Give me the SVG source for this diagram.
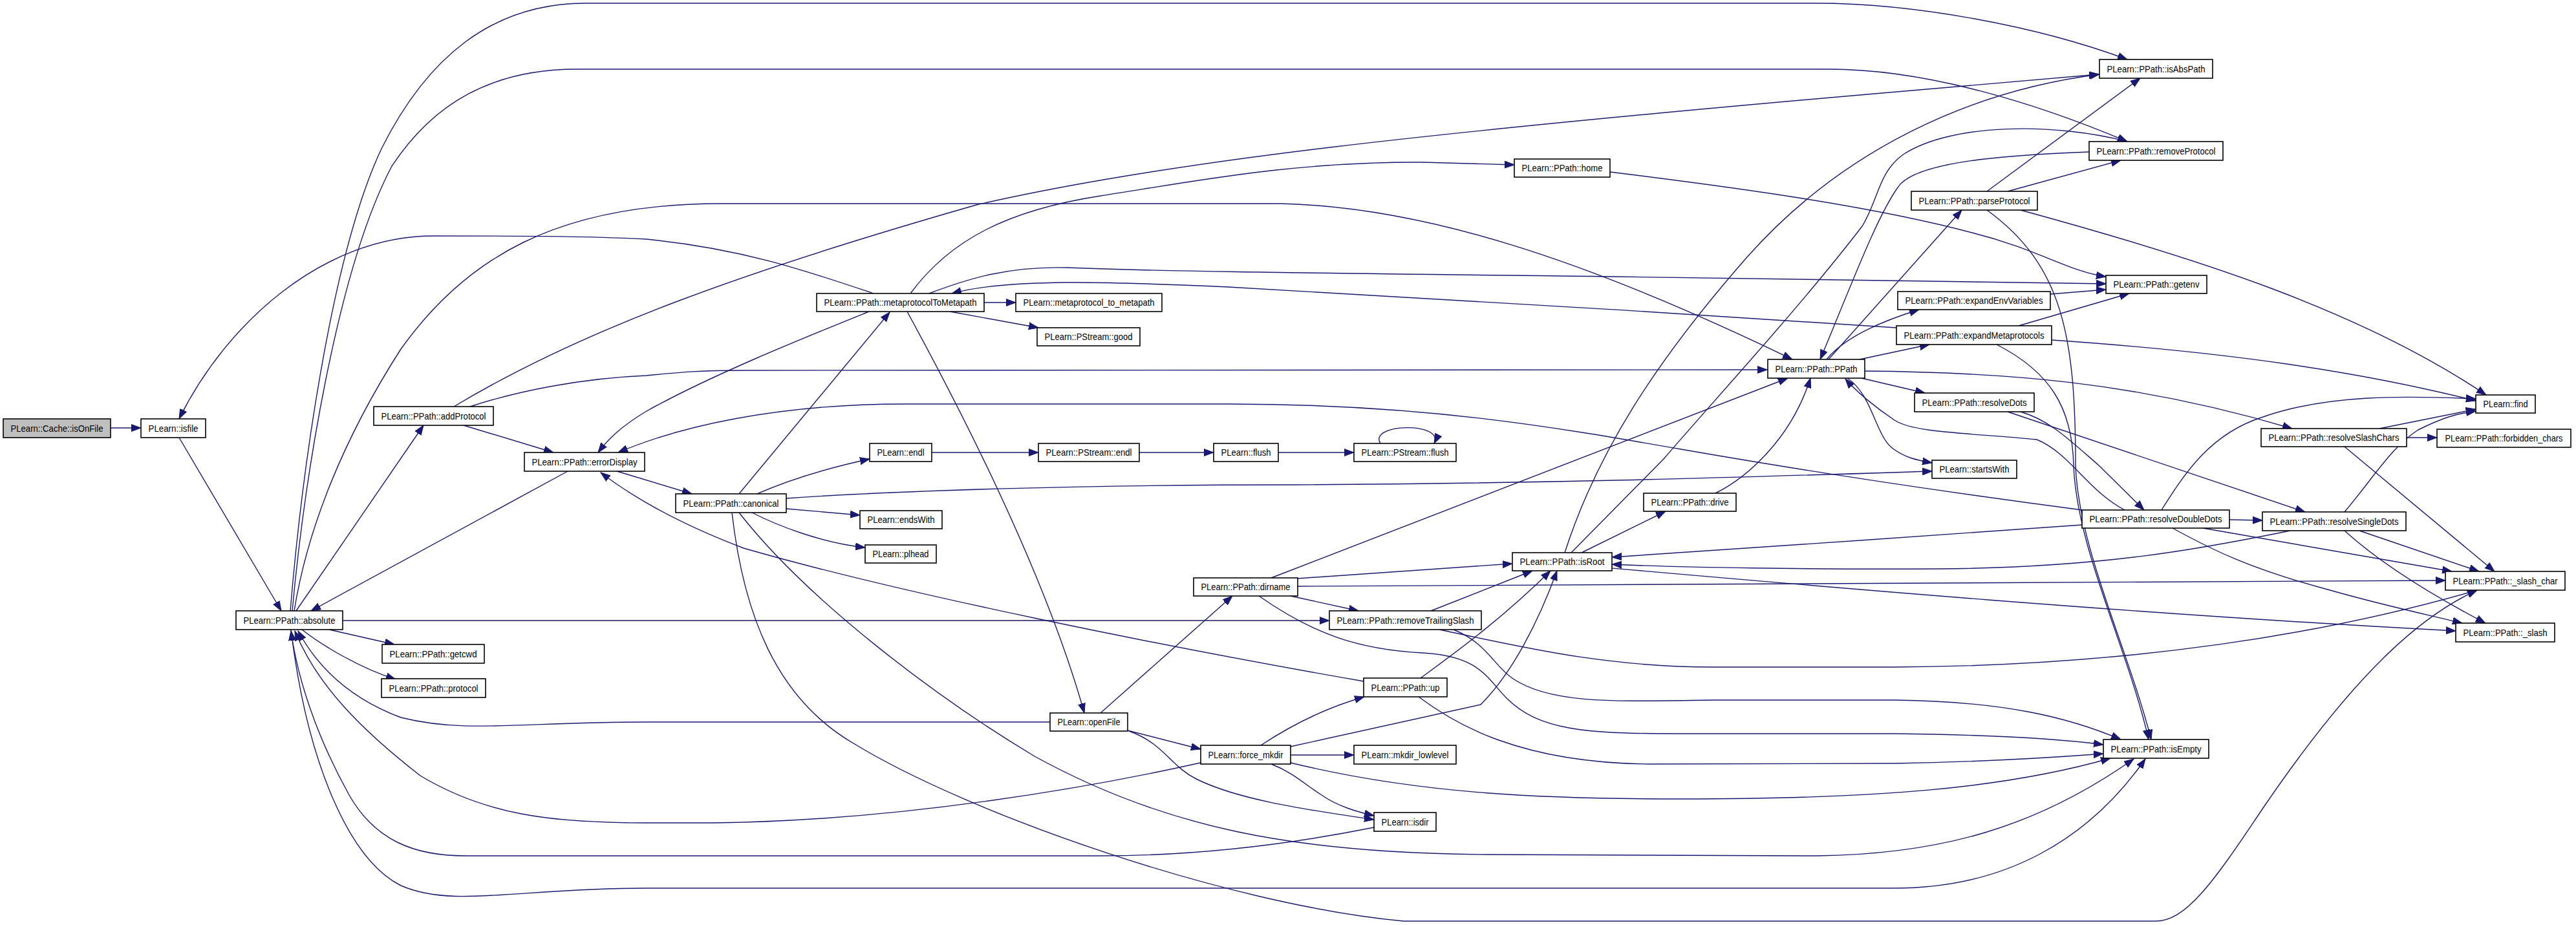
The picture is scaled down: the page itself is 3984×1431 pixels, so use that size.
<svg xmlns="http://www.w3.org/2000/svg" width="3984" height="1431" viewBox="0 0 3984 1431">
<style>
.node rect{fill:#ffffff;stroke:#000000;stroke-width:1.6}
.node.root rect{fill:#bfbfbf}
.node text{font-family:"Liberation Sans",Arial,sans-serif;font-size:15px;text-anchor:middle;fill:#000000}
.edges path{fill:none;stroke:#191970;stroke-width:1.4;marker-end:url(#ah)}
</style>
<defs>
<marker id="ah" markerUnits="userSpaceOnUse" markerWidth="16" markerHeight="12" viewBox="0 0 16 12" refX="15" refY="6" orient="auto">
<path d="M0,0.5 L15,6 L0,11.5 z" fill="#191970" stroke="#191970" stroke-width="1"/>
</marker>
</defs>
<rect x="0" y="0" width="3984" height="1431" fill="#ffffff"/>
<g id="edges" class="edges">
<path d="M171,662 L218,662"/>
<path d="M277,677 L435,945"/>
<path d="M449,945 C465,750 510,400 590,230 C660,90 760,5 906,5 L2809,5 C2960,5 3150,40 3290,92"/>
<path d="M452,945 C470,750 520,420 606,257 C670,160 760,107 893,107 L2828,107 C2980,107 3150,160 3290,219"/>
<path d="M458,945 L655,658"/>
<path d="M878,729 L481,945"/>
<path d="M717,658 L856,700"/>
<path d="M509,974 L610,997"/>
<path d="M467,974 C500,1000 560,1035 612,1051"/>
<path d="M530,960 L2056,960"/>
<path d="M455,945 C475,820 530,680 620,540 C720,400 860,315 1115,315 L1980,315 C2200,320 2450,400 2772,556"/>
<path d="M1351,454 C1250,420 1150,385 1000,370 C900,365 800,365 670,365 C500,365 350,500 277,648"/>
<path d="M1344,482 C1250,520 1100,580 1000,636 C960,660 940,680 925,700"/>
<path d="M1522,468 L1571,468"/>
<path d="M1469,482 L1606,507"/>
<path d="M1143,764 L1376,483"/>
<path d="M1403,482 C1500,660 1620,900 1677,1103"/>
<path d="M1408,454 C1470,370 1560,325 1702,303 C1850,280 2000,250 2200,251 L2342,255"/>
<path d="M1437,454 C1500,430 1560,412 1650,414 C1800,420 2000,422 2500,428 L3257,439"/>
<path d="M2933,507 C2600,485 2200,460 1900,444 C1720,436 1560,430 1472,454"/>
<path d="M702,629 C900,510 1150,420 1510,317 C1800,250 2200,205 2980,138 L3246,115"/>
<path d="M727,629 C800,605 900,585 1000,581 C1050,576 1080,573 1150,573 L2733,572"/>
<path d="M3220,789 C3000,760 2800,730 2600,695 C2400,660 2200,625 1900,625 L1400,625 C1200,625 1050,660 956,700"/>
<path d="M1171,764 C1230,738 1290,722 1345,710"/>
<path d="M1441,700 L1606,700"/>
<path d="M1762,700 L1877,700"/>
<path d="M1977,700 L2094,700"/>
<path d="M2135,686 C2115,655 2235,652 2218,686"/>
<path d="M1216,787 L1330,797"/>
<path d="M1163,793 C1200,812 1270,840 1338,847"/>
<path d="M1216,771 C1400,758 1700,750 2000,750 C2400,748 2700,738 2988,729"/>
<path d="M954,729 L1070,764"/>
<path d="M2109,1054 C1800,1000 1400,920 1150,848 C1050,810 980,770 929,731"/>
<path d="M1132,793 C1150,950 1200,1080 1320,1150 C1500,1260 1900,1400 2171,1425 L3333,1425 C3380,1425 3420,1370 3500,1250 C3650,1030 3750,950 3831,913"/>
<path d="M1143,793 C1250,930 1450,1080 1600,1170 C1800,1280 2000,1320 2300,1322 L2809,1324 C3000,1322 3150,1280 3300,1174"/>
<path d="M450,974 C475,1180 540,1330 620,1370 C700,1405 800,1374 1000,1374 L2930,1374 C3100,1374 3230,1300 3318,1174"/>
<path d="M1624,1117 L1000,1117 C800,1117 720,1135 620,1110 C540,1080 490,1030 461,976"/>
<path d="M1857,1180 C1700,1215 1400,1270 1100,1273 L1000,1273 C850,1273 750,1260 650,1200 C560,1130 490,1060 456,976"/>
<path d="M2125,1280 C2000,1305 1850,1324 1700,1324 L720,1324 C640,1324 580,1300 540,1230 C490,1140 460,1050 450,976"/>
<path d="M1702,1103 L1906,922"/>
<path d="M1744,1130 L1857,1159"/>
<path d="M1746,1131 C1800,1150 1810,1185 1850,1205 C1920,1240 2040,1255 2125,1268"/>
<path d="M1950,1153 C2000,1120 2050,1095 2110,1078"/>
<path d="M1996,1168 L2094,1168"/>
<path d="M1996,1155 L2290,1090 C2340,1040 2380,960 2408,883"/>
<path d="M1966,1182 C2000,1195 2020,1215 2044,1230 C2070,1248 2100,1256 2125,1262"/>
<path d="M1996,1180 C2200,1230 2400,1236 2600,1236 C2900,1236 3100,1220 3264,1173"/>
<path d="M1966,894 L2765,585"/>
<path d="M2006,895 L2339,872"/>
<path d="M1996,922 L2101,945"/>
<path d="M2007,907 L3782,898"/>
<path d="M1947,922 C2030,980 2100,1005 2200,1010 C2290,1015 2300,1050 2330,1080 C2380,1130 2450,1135 2600,1135 L2930,1135 C3100,1137 3200,1145 3253,1152"/>
<path d="M2213,945 L2370,883"/>
<path d="M2226,974 C2350,1000 2480,1032 2650,1032 L2930,1032 C3300,1030 3600,980 3831,913"/>
<path d="M2248,974 C2300,995 2310,1030 2340,1050 C2400,1090 2500,1085 2650,1083 L2930,1083 C3100,1085 3200,1110 3280,1144"/>
<path d="M2197,1049 C2250,1010 2320,960 2398,883"/>
<path d="M2194,1078 C2250,1120 2350,1180 2550,1182 L2930,1181 C3100,1178 3200,1170 3253,1166"/>
<path d="M2446,855 L2576,791"/>
<path d="M2653,763 C2700,740 2770,680 2800,585"/>
<path d="M2420,855 C2470,700 2560,560 2700,400 C2850,230 3050,140 3247,115"/>
<path d="M2430,855 L2573,710 C2650,620 2780,480 2880,350 C2905,310 2905,265 2945,238 C3020,190 3180,190 3290,219"/>
<path d="M3231,235 C3100,240 2960,250 2935,290 C2900,340 2860,450 2815,556"/>
<path d="M2828,556 L3034,325"/>
<path d="M2825,556 C2850,525 2900,500 2968,479"/>
<path d="M2876,556 L2984,533"/>
<path d="M2879,585 L2977,608"/>
<path d="M2884,574 C3100,576 3300,590 3545,663"/>
<path d="M2857,585 C2895,610 2900,670 2925,692 C2945,708 2965,712 2988,716"/>
<path d="M3286,789 C3230,760 3200,700 3150,680 C3050,670 2960,670 2930,650 C2900,630 2870,605 2854,586"/>
<path d="M3171,455 L3257,448"/>
<path d="M3122,504 L3293,454"/>
<path d="M2490,266 C2700,292 2900,320 3050,360 C3150,385 3200,420 3257,428"/>
<path d="M3073,296 L3310,121"/>
<path d="M3105,296 L3280,248"/>
<path d="M3125,325 C3400,400 3650,480 3845,611"/>
<path d="M3073,325 C3190,410 3210,520 3210,720 C3215,850 3290,1000 3327,1144"/>
<path d="M3088,533 C3170,575 3205,630 3207,720 C3212,850 3290,1000 3323,1144"/>
<path d="M3173,526 C3450,545 3650,575 3829,620"/>
<path d="M3105,637 L3565,792"/>
<path d="M3125,637 C3170,650 3200,680 3246,720 L3316,789"/>
<path d="M3680,663 L3829,633"/>
<path d="M3722,677 L3769,677"/>
<path d="M3626,691 L3858,884"/>
<path d="M3343,789 C3380,730 3420,670 3500,645 C3600,610 3720,612 3829,617"/>
<path d="M3626,792 C3670,740 3700,690 3740,665 C3780,645 3800,640 3829,636"/>
<path d="M3448,804 L3499,805"/>
<path d="M3407,817 L3792,884"/>
<path d="M3360,817 C3420,850 3480,880 3600,912 C3680,935 3750,950 3808,964"/>
<path d="M3649,821 L3834,884"/>
<path d="M3626,821 C3680,870 3760,920 3844,964"/>
<path d="M3220,812 C3000,828 2700,848 2493,862"/>
<path d="M3542,821 C3400,850 3250,878 3000,880 C2800,881 2600,878 2493,873"/>
<path d="M2493,879 C2800,906 3300,950 3798,976"/>
</g>
<g id="n_isOnFile" class="node root"><rect x="5" y="648" width="166" height="29"/><text x="88" y="667.5" textLength="143" lengthAdjust="spacingAndGlyphs">PLearn::Cache::isOnFile</text></g>
<g id="n_isfile" class="node"><rect x="218" y="648" width="100" height="29"/><text x="268" y="667.5" textLength="77" lengthAdjust="spacingAndGlyphs">PLearn::isfile</text></g>
<g id="n_absolute" class="node"><rect x="365" y="945" width="165" height="29"/><text x="447.5" y="964.5" textLength="142" lengthAdjust="spacingAndGlyphs">PLearn::PPath::absolute</text></g>
<g id="n_addProtocol" class="node"><rect x="578" y="629" width="185" height="29"/><text x="670.5" y="648.5" textLength="162" lengthAdjust="spacingAndGlyphs">PLearn::PPath::addProtocol</text></g>
<g id="n_getcwd" class="node"><rect x="591" y="997" width="158" height="29"/><text x="670" y="1016.5" textLength="135" lengthAdjust="spacingAndGlyphs">PLearn::PPath::getcwd</text></g>
<g id="n_protocol" class="node"><rect x="590" y="1050" width="161" height="29"/><text x="670.5" y="1069.5" textLength="138" lengthAdjust="spacingAndGlyphs">PLearn::PPath::protocol</text></g>
<g id="n_errorDisplay" class="node"><rect x="811" y="700" width="186" height="29"/><text x="904" y="719.5" textLength="163" lengthAdjust="spacingAndGlyphs">PLearn::PPath::errorDisplay</text></g>
<g id="n_metaprotocolToMetapath" class="node"><rect x="1263" y="454" width="259" height="28"/><text x="1392.5" y="473" textLength="236" lengthAdjust="spacingAndGlyphs">PLearn::PPath::metaprotocolToMetapath</text></g>
<g id="n_canonical" class="node"><rect x="1045" y="764" width="171" height="29"/><text x="1130.5" y="783.5" textLength="148" lengthAdjust="spacingAndGlyphs">PLearn::PPath::canonical</text></g>
<g id="n_metaprotocol_to_metapath" class="node"><rect x="1571" y="454" width="226" height="28"/><text x="1684" y="473" textLength="203" lengthAdjust="spacingAndGlyphs">PLearn::metaprotocol_to_metapath</text></g>
<g id="n_good" class="node"><rect x="1604" y="507" width="159" height="28"/><text x="1683.5" y="526" textLength="136" lengthAdjust="spacingAndGlyphs">PLearn::PStream::good</text></g>
<g id="n_endl" class="node"><rect x="1345" y="686" width="96" height="28"/><text x="1393" y="705" textLength="73" lengthAdjust="spacingAndGlyphs">PLearn::endl</text></g>
<g id="n_endsWith" class="node"><rect x="1330" y="790" width="127" height="28"/><text x="1393.5" y="809" textLength="104" lengthAdjust="spacingAndGlyphs">PLearn::endsWith</text></g>
<g id="n_plhead" class="node"><rect x="1338" y="843" width="110" height="28"/><text x="1393" y="862" textLength="87" lengthAdjust="spacingAndGlyphs">PLearn::plhead</text></g>
<g id="n_PStream_endl" class="node"><rect x="1606" y="686" width="156" height="28"/><text x="1684" y="705" textLength="133" lengthAdjust="spacingAndGlyphs">PLearn::PStream::endl</text></g>
<g id="n_openFile" class="node"><rect x="1624" y="1103" width="120" height="28"/><text x="1684" y="1122" textLength="97" lengthAdjust="spacingAndGlyphs">PLearn::openFile</text></g>
<g id="n_dirname" class="node"><rect x="1846" y="894" width="161" height="28"/><text x="1926.5" y="913" textLength="138" lengthAdjust="spacingAndGlyphs">PLearn::PPath::dirname</text></g>
<g id="n_force_mkdir" class="node"><rect x="1857" y="1153" width="139" height="29"/><text x="1926.5" y="1172.5" textLength="116" lengthAdjust="spacingAndGlyphs">PLearn::force_mkdir</text></g>
<g id="n_flush" class="node"><rect x="1877" y="686" width="100" height="28"/><text x="1927" y="705" textLength="77" lengthAdjust="spacingAndGlyphs">PLearn::flush</text></g>
<g id="n_PStream_flush" class="node"><rect x="2094" y="686" width="158" height="28"/><text x="2173" y="705" textLength="135" lengthAdjust="spacingAndGlyphs">PLearn::PStream::flush</text></g>
<g id="n_home" class="node"><rect x="2342" y="246" width="148" height="28"/><text x="2416" y="265" textLength="125" lengthAdjust="spacingAndGlyphs">PLearn::PPath::home</text></g>
<g id="n_removeTrailingSlash" class="node"><rect x="2056" y="945" width="235" height="29"/><text x="2173.5" y="964.5" textLength="212" lengthAdjust="spacingAndGlyphs">PLearn::PPath::removeTrailingSlash</text></g>
<g id="n_up" class="node"><rect x="2109" y="1049" width="129" height="29"/><text x="2173.5" y="1068.5" textLength="106" lengthAdjust="spacingAndGlyphs">PLearn::PPath::up</text></g>
<g id="n_mkdir_lowlevel" class="node"><rect x="2094" y="1153" width="158" height="29"/><text x="2173" y="1172.5" textLength="135" lengthAdjust="spacingAndGlyphs">PLearn::mkdir_lowlevel</text></g>
<g id="n_isdir" class="node"><rect x="2125" y="1257" width="96" height="29"/><text x="2173" y="1276.5" textLength="73" lengthAdjust="spacingAndGlyphs">PLearn::isdir</text></g>
<g id="n_isRoot" class="node"><rect x="2339" y="855" width="154" height="28"/><text x="2416" y="874" textLength="131" lengthAdjust="spacingAndGlyphs">PLearn::PPath::isRoot</text></g>
<g id="n_drive" class="node"><rect x="2542" y="763" width="143" height="28"/><text x="2613.5" y="782" textLength="120" lengthAdjust="spacingAndGlyphs">PLearn::PPath::drive</text></g>
<g id="n_PPath" class="node"><rect x="2734" y="556" width="150" height="29"/><text x="2809" y="575.5" textLength="127" lengthAdjust="spacingAndGlyphs">PLearn::PPath::PPath</text></g>
<g id="n_parseProtocol" class="node"><rect x="2956" y="296" width="195" height="29"/><text x="3053.5" y="315.5" textLength="172" lengthAdjust="spacingAndGlyphs">PLearn::PPath::parseProtocol</text></g>
<g id="n_expandEnvVariables" class="node"><rect x="2935" y="451" width="236" height="28"/><text x="3053" y="470" textLength="213" lengthAdjust="spacingAndGlyphs">PLearn::PPath::expandEnvVariables</text></g>
<g id="n_expandMetaprotocols" class="node"><rect x="2933" y="504" width="240" height="29"/><text x="3053" y="523.5" textLength="217" lengthAdjust="spacingAndGlyphs">PLearn::PPath::expandMetaprotocols</text></g>
<g id="n_resolveDots" class="node"><rect x="2961" y="608" width="185" height="29"/><text x="3053.5" y="627.5" textLength="162" lengthAdjust="spacingAndGlyphs">PLearn::PPath::resolveDots</text></g>
<g id="n_startsWith" class="node"><rect x="2988" y="712" width="131" height="28"/><text x="3053.5" y="731" textLength="108" lengthAdjust="spacingAndGlyphs">PLearn::startsWith</text></g>
<g id="n_isAbsPath" class="node"><rect x="3247" y="92" width="175" height="29"/><text x="3334.5" y="111.5" textLength="152" lengthAdjust="spacingAndGlyphs">PLearn::PPath::isAbsPath</text></g>
<g id="n_removeProtocol" class="node"><rect x="3231" y="219" width="207" height="29"/><text x="3334.5" y="238.5" textLength="184" lengthAdjust="spacingAndGlyphs">PLearn::PPath::removeProtocol</text></g>
<g id="n_getenv" class="node"><rect x="3257" y="426" width="156" height="28"/><text x="3335" y="445" textLength="133" lengthAdjust="spacingAndGlyphs">PLearn::PPath::getenv</text></g>
<g id="n_resolveDoubleDots" class="node"><rect x="3220" y="789" width="228" height="28"/><text x="3334" y="808" textLength="205" lengthAdjust="spacingAndGlyphs">PLearn::PPath::resolveDoubleDots</text></g>
<g id="n_isEmpty" class="node"><rect x="3253" y="1144" width="163" height="29"/><text x="3334.5" y="1163.5" textLength="140" lengthAdjust="spacingAndGlyphs">PLearn::PPath::isEmpty</text></g>
<g id="n_resolveSlashChars" class="node"><rect x="3497" y="663" width="225" height="28"/><text x="3609.5" y="682" textLength="202" lengthAdjust="spacingAndGlyphs">PLearn::PPath::resolveSlashChars</text></g>
<g id="n_resolveSingleDots" class="node"><rect x="3499" y="792" width="222" height="29"/><text x="3610" y="811.5" textLength="199" lengthAdjust="spacingAndGlyphs">PLearn::PPath::resolveSingleDots</text></g>
<g id="n_find" class="node"><rect x="3829" y="611" width="92" height="28"/><text x="3875" y="630" textLength="69" lengthAdjust="spacingAndGlyphs">PLearn::find</text></g>
<g id="n_forbidden_chars" class="node"><rect x="3769" y="664" width="207" height="28"/><text x="3872.5" y="683" textLength="182" lengthAdjust="spacingAndGlyphs">PLearn::PPath::forbidden_chars</text></g>
<g id="n_slash_char" class="node"><rect x="3782" y="884" width="185" height="29"/><text x="3874.5" y="903.5" textLength="162" lengthAdjust="spacingAndGlyphs">PLearn::PPath::_slash_char</text></g>
<g id="n_slash" class="node"><rect x="3798" y="964" width="153" height="29"/><text x="3874.5" y="983.5" textLength="130" lengthAdjust="spacingAndGlyphs">PLearn::PPath::_slash</text></g>
</svg>
